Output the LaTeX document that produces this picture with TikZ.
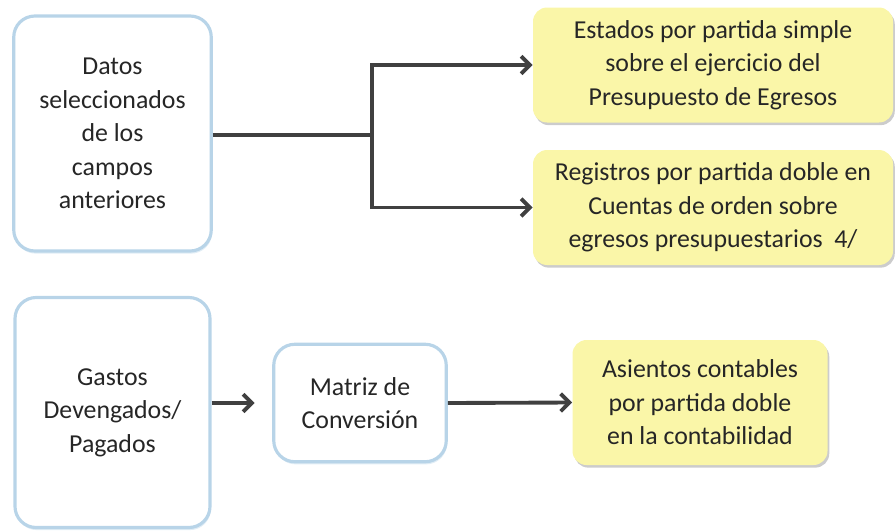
\documentclass[tikz,border=0pt]{standalone}
\usepackage{fontspec}
\setmainfont{Carlito}
\usetikzlibrary{arrows.meta,shadows}
\definecolor{boxblue}{RGB}{184,212,232}
\definecolor{boxyellow}{RGB}{250,246,168}
\definecolor{linegray}{RGB}{64,64,64}
\begin{document}
\begin{tikzpicture}[
    every node/.append style={align=center, font=\fontsize{14.7}{19}\selectfont, text=black!85},
    bluebox/.style={draw=boxblue, line width=1.8pt, fill=white, rounded corners=12pt,
        drop shadow={shadow xshift=0.5pt, shadow yshift=-1.5pt, fill=boxblue!70, opacity=0.6}},
    yellowbox/.style={draw=none, fill=boxyellow, rounded corners=8pt,
        drop shadow={shadow xshift=1pt, shadow yshift=-1.5pt, fill=black!40, opacity=0.5}},
    conn/.style={draw=linegray, line width=2.2pt, -{Straight Barb[length=5pt,width=10pt]}}
]
    \useasboundingbox (0,0) rectangle (17.9,-10.62);

    \node[bluebox, minimum width=3.95cm, minimum height=4.7cm] (datos) at (2.25,-2.67)
        {Datos\\seleccionados\\de los\\campos\\anteriores};
    \node[yellowbox, minimum width=7.2cm, minimum height=2.3cm] (estados) at (14.26,-1.3)
        {Estados por partida simple\\sobre el ejercicio del\\Presupuesto de Egresos};
    \node[yellowbox, minimum width=7.2cm, minimum height=2.3cm] (registros) at (14.26,-4.15)
        {Registros por partida doble en\\Cuentas de orden sobre\\egresos presupuestarios \ 4/};

    \node[bluebox, minimum width=3.9cm, minimum height=4.6cm] (gastos) at (2.25,-8.25)
        {Gastos\\Devengados/\\Pagados};
    \node[bluebox, minimum width=3.45cm, minimum height=2.35cm] (matriz) at (7.2,-8.06)
        {Matriz de\\Conversión};
    \node[yellowbox, minimum width=5.1cm, minimum height=2.5cm] (asientos) at (14.0,-8.05)
        {Asientos contables\\por partida doble\\en la contabilidad};

    \coordinate (split) at (7.44,-2.7);
    \draw[draw=linegray, line width=2.2pt] (datos.east |- split) -- (split);
    \draw[conn] (split) |- (estados.west);
    \draw[conn] (split) |- (registros.west);
    \draw[conn, shorten >=10pt] (gastos.east |- matriz.west) -- (matriz.west);
    \draw[conn] (matriz.east) -- (asientos.west);
\end{tikzpicture}
\end{document}
